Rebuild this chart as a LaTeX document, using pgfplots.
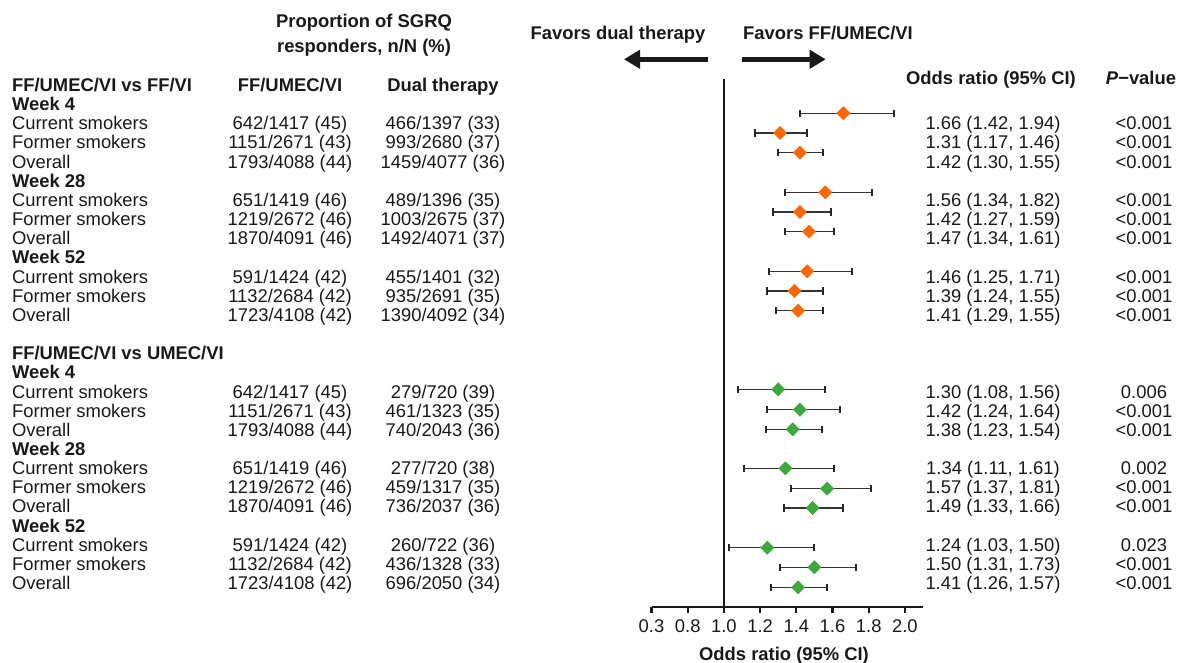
\documentclass[border=0pt]{standalone}
\usepackage{fontspec}
\setmainfont{Liberation Sans}
\usepackage{pgfplots}
\pgfplotsset{compat=1.18}
\usepackage{pgfplotstable}
\usetikzlibrary{arrows.meta}
\definecolor{orng}{RGB}{255,102,0}
\definecolor{grn}{RGB}{61,168,61}
\newcommand{\fs}{\fontsize{9.2}{11}\selectfont}

% odds ratio, lower CI, upper CI, vertical position of the marker (px from top)
\pgfplotstableread{
or   lo   hi   py
1.66 1.42 1.94 113.3
1.31 1.17 1.46 133.0
1.42 1.30 1.55 152.7
1.56 1.34 1.82 192.3
1.42 1.27 1.59 212.0
1.47 1.34 1.61 231.7
1.46 1.25 1.71 271.3
1.39 1.24 1.55 291.0
1.41 1.29 1.55 310.7
}\orangetab
\pgfplotstableread{
or   lo   hi   py
1.30 1.08 1.56 389.3
1.42 1.24 1.64 409.7
1.38 1.23 1.54 429.3
1.34 1.11 1.61 468.3
1.57 1.37 1.81 488.7
1.49 1.33 1.66 508.0
1.24 1.03 1.50 547.7
1.50 1.31 1.73 567.3
1.41 1.26 1.57 587.3
}\greentab

\newcommand{\Tw}[3]{\node[anchor=base west] at (#1,{#2+6.6}) {#3};}
\newcommand{\Tc}[3]{\node[anchor=base] at (#1,{#2+6.6}) {#3};}
\newcommand{\Row}[6]{\Tw{11.7}{#1}{#2}\Tc{290}{#1}{#3}\Tc{443}{#1}{#4}\Tc{993}{#1}{#5}\Tc{1144}{#1}{#6}}

\begin{document}
\begin{tikzpicture}
\begin{axis}[
  at={(325.75pt,-303.5pt)}, anchor=south west,
  x=90.5pt, y=0.5pt,
  xmin=0.6, xmax=2.1, ymin=-607, ymax=-79,
  axis x line=bottom, axis y line=none,
  axis line style={-, line width=1.1pt, black!90},
  xtick={0.6,0.8,1.0,1.2,1.4,1.6,1.8,2.0},
  xticklabels={0.3,0.8,1.0,1.2,1.4,1.6,1.8,2.0},
  xtick align=outside, major tick length=3pt,
  xtick style={line width=1.1pt, black!90},
  xticklabel style={font=\fs, text=black!90},
  clip=false,
  xlabel={\bfseries Odds ratio (95\% CI)},
  xlabel style={at={(axis description cs:0.488,0)}, anchor=base, yshift=-26.8pt, font=\fs, text=black!90},
]
\addplot[black!90, line width=1.1pt] coordinates {(1,-607) (1,-79)};
\addplot[only marks, mark=square*, mark size=2.3pt,
  mark options={rotate=45, fill=orng, draw=orng, line width=0.3pt},
  error bars/.cd, x dir=both, x explicit,
  error bar style={line width=0.7pt, black!80},
  error mark options={rotate=90, black!85, line width=1pt, mark size=1.8pt}]
  table[x=or, y expr=-\thisrow{py},
        x error plus expr=\thisrow{hi}-\thisrow{or},
        x error minus expr=\thisrow{or}-\thisrow{lo}] {\orangetab};
\addplot[only marks, mark=square*, mark size=2.3pt,
  mark options={rotate=45, fill=grn, draw=grn, line width=0.3pt},
  error bars/.cd, x dir=both, x explicit,
  error bar style={line width=0.7pt, black!80},
  error mark options={rotate=90, black!85, line width=1pt, mark size=1.8pt}]
  table[x=or, y expr=-\thisrow{py},
        x error plus expr=\thisrow{hi}-\thisrow{or},
        x error minus expr=\thisrow{or}-\thisrow{lo}] {\greentab};
\end{axis}

\begin{scope}[x=0.5pt, y=-0.5pt, every node/.style={inner sep=0pt, font=\fs, text=black!90}]
% top headers
\Tc{364}{21}{\bfseries Proportion of SGRQ}
\Tc{364}{46}{\bfseries responders, n/N (\%)}
\Tc{618}{33}{\bfseries Favors dual therapy}
\Tc{828}{33}{\bfseries Favors FF/UMEC/VI}
\draw[black!90, line width=2.6pt, -{Triangle[length=8pt,width=9pt]}] (707.7,59.3) -- (624,59.3);
\draw[black!90, line width=2.6pt, -{Triangle[length=8pt,width=9pt]}] (741.7,59.3) -- (825.7,59.3);
\Tc{991}{78}{\bfseries Odds ratio (95\% CI)}
\Tc{1141}{78}{\bfseries\itshape P\upshape−value}
% column headers
\Tw{11.7}{85}{\bfseries FF/UMEC/VI vs FF/VI}
\Tc{290}{85}{\bfseries FF/UMEC/VI}
\Tc{443}{85}{\bfseries Dual therapy}
% block 1
\Tw{11.7}{104}{\bfseries Week 4}
\Row{123.16}{Current smokers}{642/1417 (45)}{466/1397 (33)}{1.66 (1.42, 1.94)}{<0.001}
\Row{142.32}{Former smokers}{1151/2671 (43)}{993/2680 (37)}{1.31 (1.17, 1.46)}{<0.001}
\Row{161.48}{Overall}{1793/4088 (44)}{1459/4077 (36)}{1.42 (1.30, 1.55)}{<0.001}
\Tw{11.7}{180.64}{\bfseries Week 28}
\Row{199.8}{Current smokers}{651/1419 (46)}{489/1396 (35)}{1.56 (1.34, 1.82)}{<0.001}
\Row{218.96}{Former smokers}{1219/2672 (46)}{1003/2675 (37)}{1.42 (1.27, 1.59)}{<0.001}
\Row{238.12}{Overall}{1870/4091 (46)}{1492/4071 (37)}{1.47 (1.34, 1.61)}{<0.001}
\Tw{11.7}{257.28}{\bfseries Week 52}
\Row{276.44}{Current smokers}{591/1424 (42)}{455/1401 (32)}{1.46 (1.25, 1.71)}{<0.001}
\Row{295.6}{Former smokers}{1132/2684 (42)}{935/2691 (35)}{1.39 (1.24, 1.55)}{<0.001}
\Row{314.76}{Overall}{1723/4108 (42)}{1390/4092 (34)}{1.41 (1.29, 1.55)}{<0.001}
% block 2
\Tw{11.7}{353.08}{\bfseries FF/UMEC/VI vs UMEC/VI}
\Tw{11.7}{372.24}{\bfseries Week 4}
\Row{391.4}{Current smokers}{642/1417 (45)}{279/720 (39)}{1.30 (1.08, 1.56)}{0.006}
\Row{410.56}{Former smokers}{1151/2671 (43)}{461/1323 (35)}{1.42 (1.24, 1.64)}{<0.001}
\Row{429.72}{Overall}{1793/4088 (44)}{740/2043 (36)}{1.38 (1.23, 1.54)}{<0.001}
\Tw{11.7}{448.88}{\bfseries Week 28}
\Row{468.04}{Current smokers}{651/1419 (46)}{277/720 (38)}{1.34 (1.11, 1.61)}{0.002}
\Row{487.2}{Former smokers}{1219/2672 (46)}{459/1317 (35)}{1.57 (1.37, 1.81)}{<0.001}
\Row{506.36}{Overall}{1870/4091 (46)}{736/2037 (36)}{1.49 (1.33, 1.66)}{<0.001}
\Tw{11.7}{525.52}{\bfseries Week 52}
\Row{544.68}{Current smokers}{591/1424 (42)}{260/722 (36)}{1.24 (1.03, 1.50)}{0.023}
\Row{563.84}{Former smokers}{1132/2684 (42)}{436/1328 (33)}{1.50 (1.31, 1.73)}{<0.001}
\Row{583}{Overall}{1723/4108 (42)}{696/2050 (34)}{1.41 (1.26, 1.57)}{<0.001}
\end{scope}

\pgfresetboundingbox
\begin{scope}[x=0.5pt, y=-0.5pt]
\path[use as bounding box] (0,0) rectangle (1182,663);
\end{scope}
\end{tikzpicture}
\end{document}
